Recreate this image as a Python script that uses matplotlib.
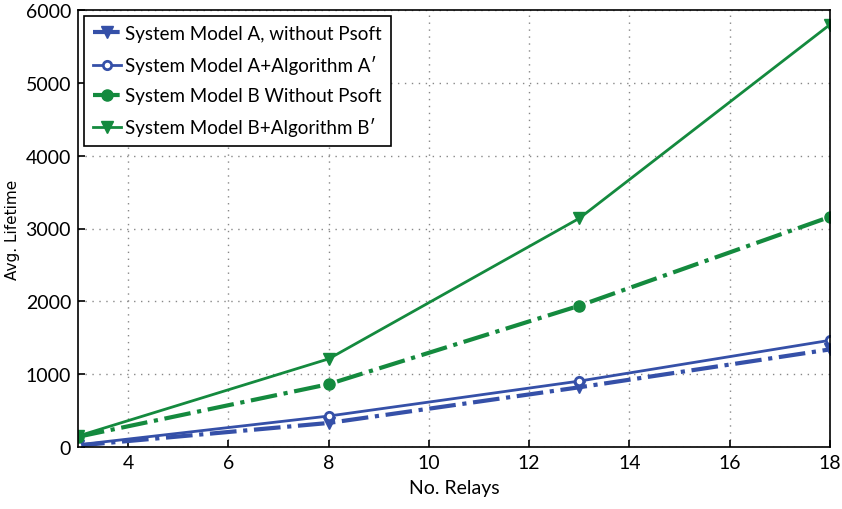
import matplotlib
matplotlib.use("Agg")
import matplotlib.pyplot as plt

plt.rcParams['font.family'] = ['Lato', 'DejaVu Sans']

relays = [3, 8, 13, 18]
model_a_no_psoft = [20, 330, 820, 1340]
model_a_alg = [30, 425, 905, 1465]
model_b_no_psoft = [140, 863, 1940, 3160]
model_b_alg = [150, 1210, 3140, 5800]

labels = [
    "System Model A, without Psoft",
    "System Model A+Algorithm A\u2032",
    "System Model B Without Psoft",
    "System Model B+Algorithm B\u2032",
]
x_ticks = [4, 6, 8, 10, 12, 14, 16, 18]
y_ticks = [0, 1000, 2000, 3000, 4000, 5000, 6000]

blue = "#3550a8"
green = "#148a3e"

fig = plt.figure(figsize=(8.42, 5.10), dpi=100)
ax = fig.add_axes([78 / 842, 1 - 448 / 510, (830 - 78) / 842, (448 - 11) / 510])

ax.plot(relays, model_a_no_psoft, linestyle="-.", color=blue, lw=3,
        marker="v", markersize=9, label=labels[0])
ax.plot(relays, model_a_alg, linestyle="-", color=blue, lw=2,
        marker="o", markersize=6, markerfacecolor="white",
        markeredgecolor=blue, markeredgewidth=2, label=labels[1])
ax.plot(relays, model_b_no_psoft, linestyle="-.", color=green, lw=3,
        marker="o", markersize=8, label=labels[2])
ax.plot(relays, model_b_alg, linestyle="-", color=green, lw=2,
        marker="v", markersize=9, label=labels[3])

ax.set_xlim(3, 18)
ax.set_ylim(0, 6000)
ax.set_xticks(x_ticks)
ax.set_yticks(y_ticks)
ax.tick_params(direction="in", length=5, labelsize=14, width=1.2, pad=5)
ax.grid(True, linestyle=(0, (1, 4)), color="#888888", linewidth=1)
for s in ax.spines.values():
    s.set_linewidth(1.2)

ax.set_xlabel("No. Relays", fontsize=14, labelpad=6)
ax.set_ylabel("Avg. Lifetime", fontsize=11, labelpad=4,
              family=["DejaVu Sans"])

leg = ax.legend(loc="upper left", fontsize=13.5, frameon=True, fancybox=False,
                edgecolor="black", framealpha=1, handlelength=1.5,
                handletextpad=0.2, borderaxespad=0.3, labelspacing=0.7,
                borderpad=0.5)
leg.get_frame().set_linewidth(1.2)

fig.savefig("out.png", dpi=100)
